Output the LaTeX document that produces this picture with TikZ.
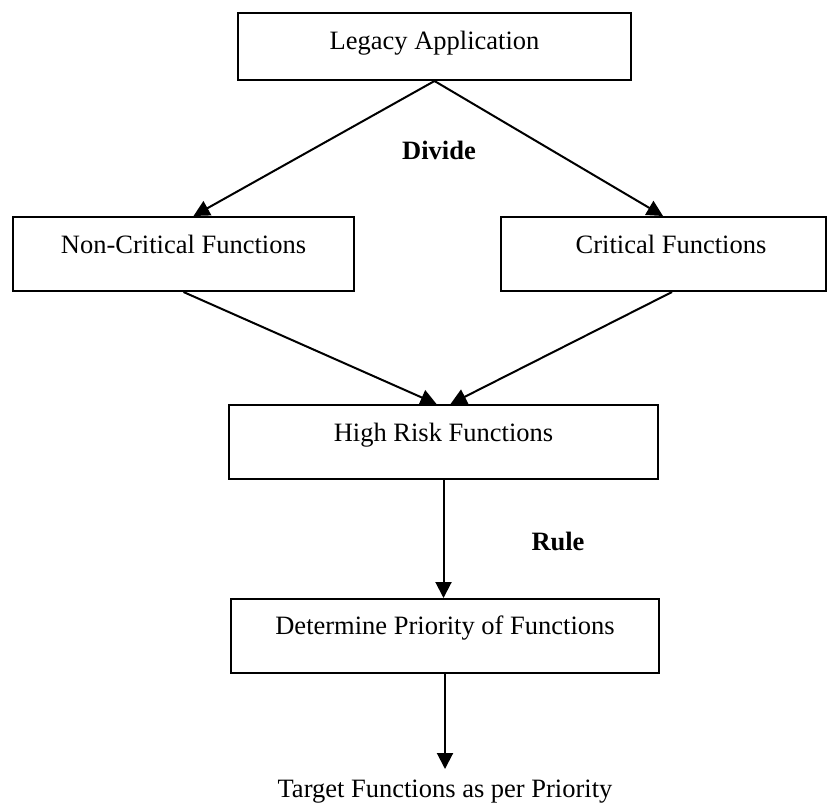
\documentclass[tikz,border=0pt]{standalone}
\usepackage{fontspec}
\setmainfont{Liberation Serif}
\usetikzlibrary{arrows.meta}
\begin{document}
\begin{tikzpicture}[x=1pt,y=1pt,
  every node/.style={font=\fontsize{26.5}{30}\selectfont, inner sep=0pt},
  boxnode/.style={draw, line width=2pt, text height=36pt, text depth=38pt},
  conn/.style={line width=2pt, -{Triangle[width=16pt,length=16pt]}},
  lbl/.style={font=\fontsize{26.5}{30}\selectfont\bfseries}]
\useasboundingbox (0,0) rectangle (829,-809);
\node[boxnode, minimum width=393pt, text height=36pt, text depth=31pt, anchor=north] (L) at (434.5,-12) {Legacy Application};
\node[boxnode, minimum width=341pt, anchor=north] (NC) at (183.5,-216) {Non-Critical Functions};
\node[boxnode, minimum width=325pt, anchor=north] (C) at (663,-216) {\hspace*{16pt}Critical Functions};
\node[boxnode, minimum width=429pt, anchor=north] (HR) at (443.5,-404) {High Risk Functions};
\node[boxnode, minimum width=428pt, text height=35pt, text depth=39pt, anchor=north] (D) at (445,-598) {Determine Priority of Functions};
\node[anchor=base] (T) at (445,-797) {Target Functions as per Priority};
\coordinate (Tin) at (445,-769);
\node[lbl] (dv) at (439,-150) {Divide};
\node[lbl] (rl) at (558,-541) {Rule};
\draw[conn] (L.south) -- ([xshift=10pt]NC.north);
\draw[conn] (L.south) -- (C.north);
\draw[conn] (NC.south) -- ([xshift=-7pt]HR.north);
\draw[conn] ([xshift=9pt]C.south) -- ([xshift=7pt]HR.north);
\draw[conn] (HR.south) -- (HR.south |- D.north);
\draw[conn] (D.south) -- (Tin);
\end{tikzpicture}
\end{document}
